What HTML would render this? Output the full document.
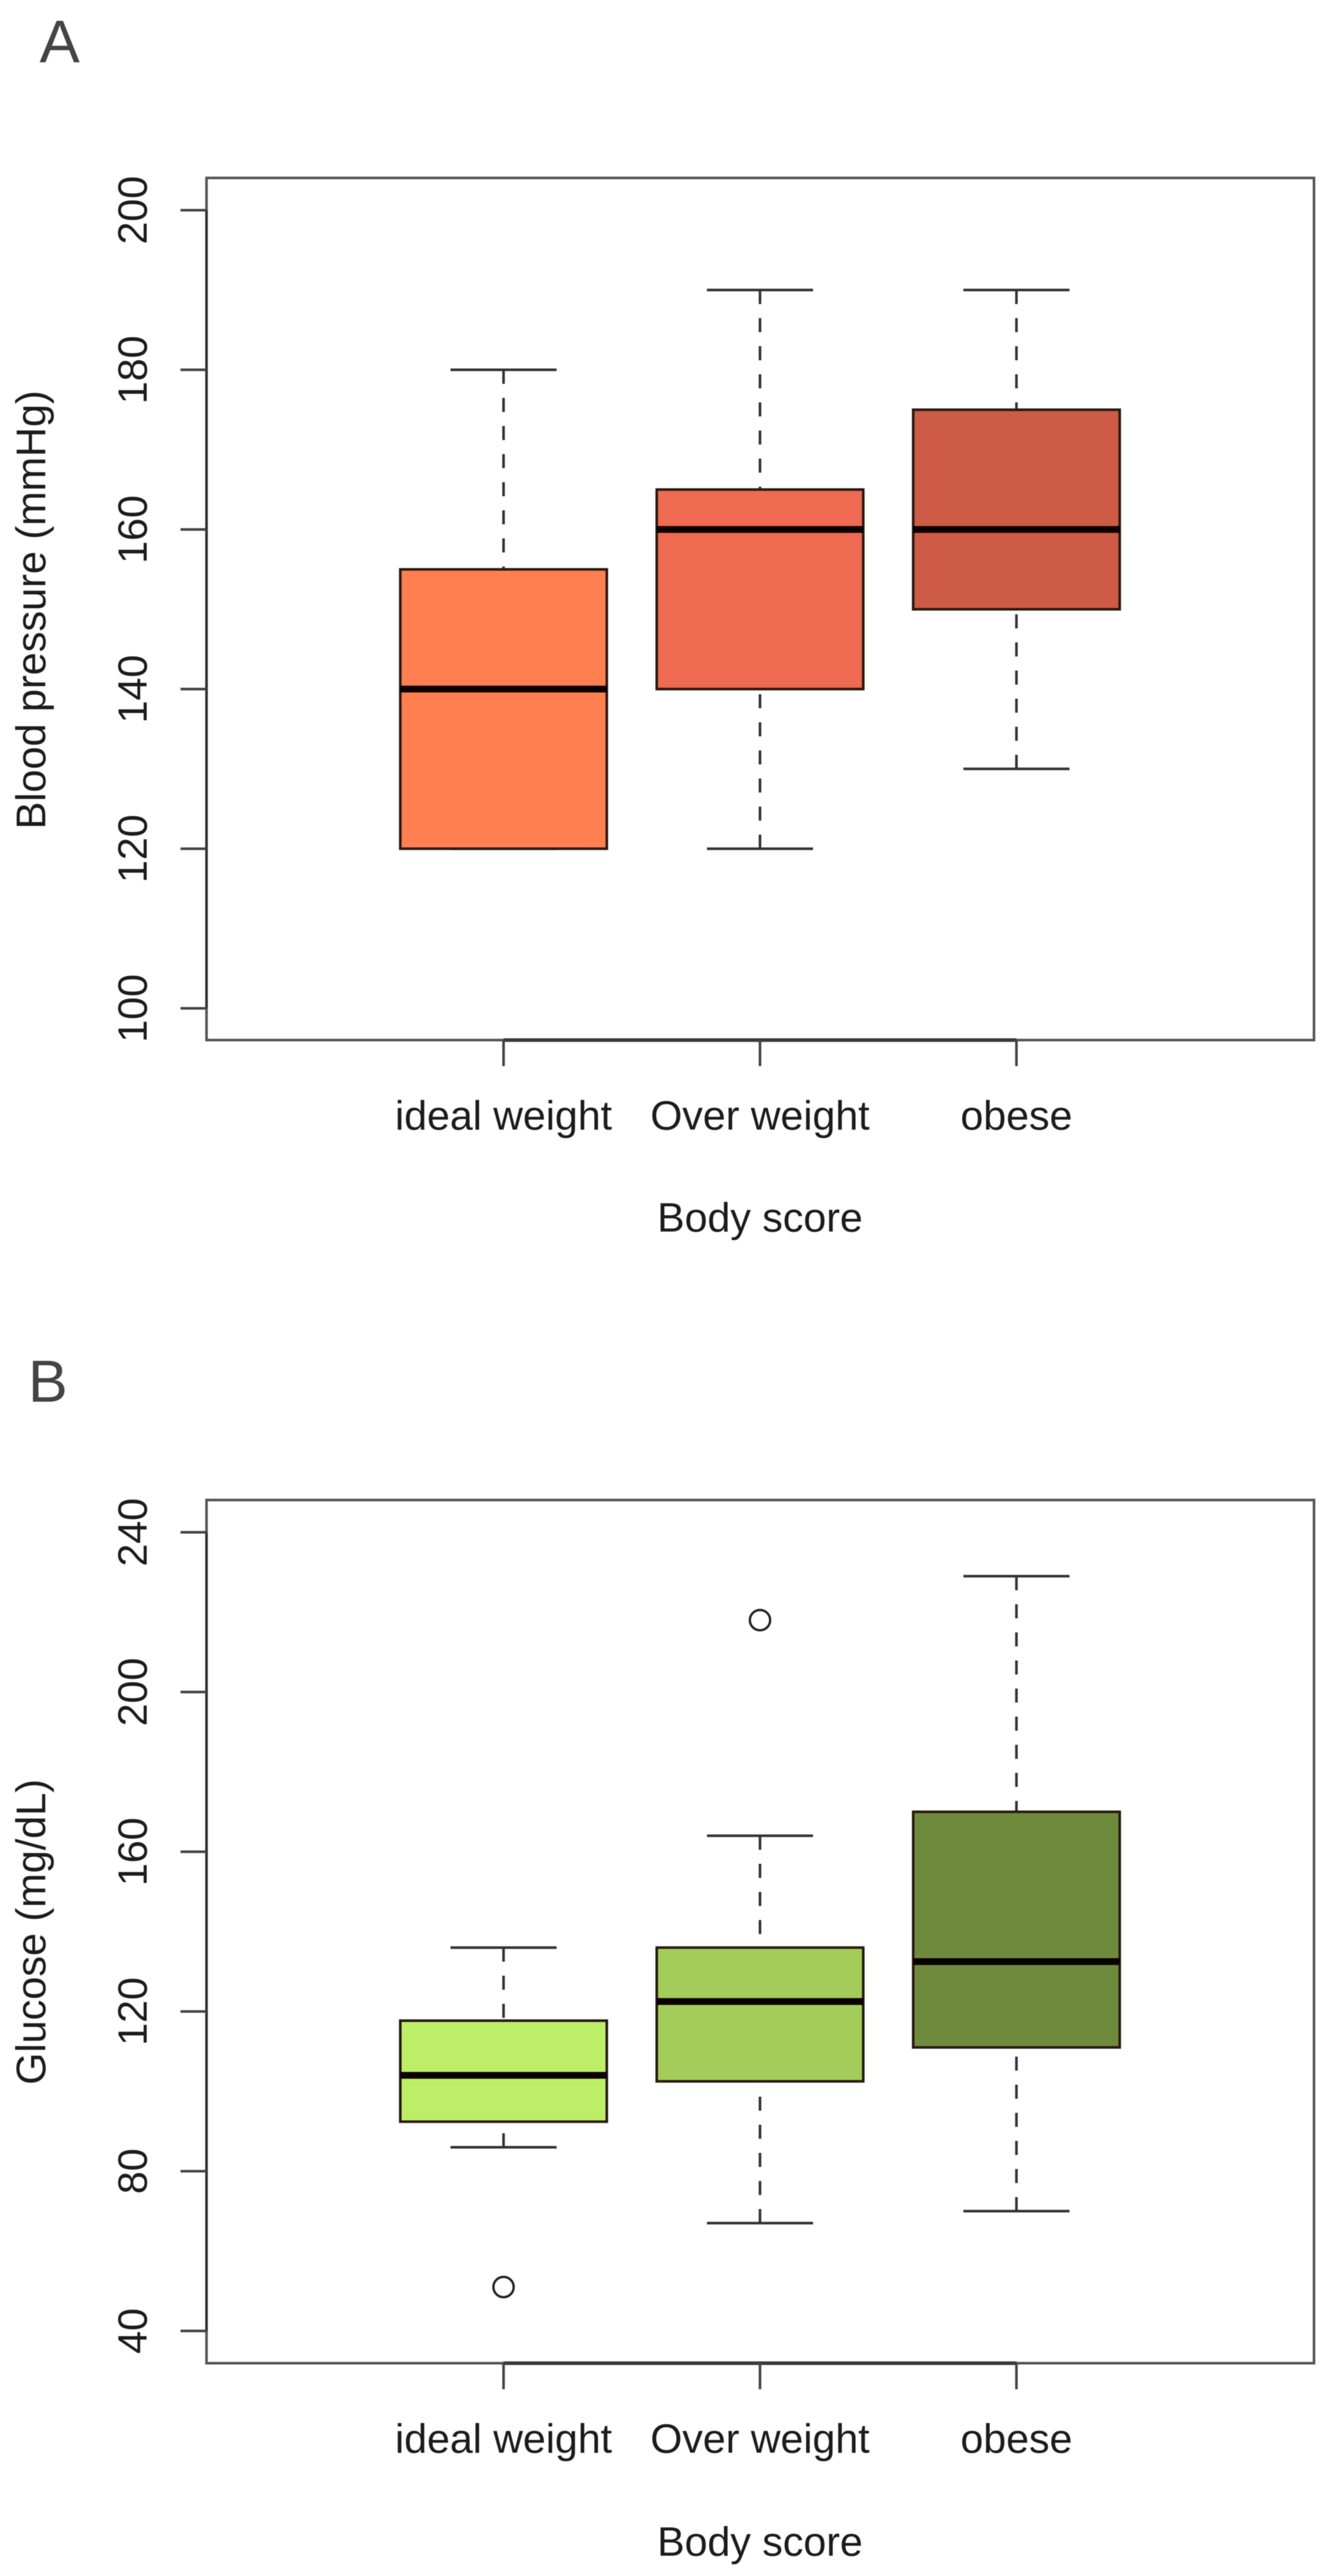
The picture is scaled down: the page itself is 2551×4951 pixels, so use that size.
<!DOCTYPE html>
<html>
<head>
<meta charset="utf-8">
<title>Blood pressure and glucose by body score</title>
<style>
html,body{margin:0;padding:0;background:#fff;}
svg{display:block;filter:blur(0.8px);}
text{font-family:"Liberation Sans",Arial,sans-serif;fill:#1c1c1c;}
</style>
</head>
<body>
<svg id="chart" xmlns="http://www.w3.org/2000/svg" width="2551" height="4951" viewBox="0 0 2551 4951">
<rect x="0" y="0" width="2551" height="4951" fill="#ffffff"/>
<text x="76" y="120" font-size="116" style="fill:#444444">A</text>
<text x="54" y="2694" font-size="114" style="fill:#444444">B</text>
<text transform="translate(87 1172) rotate(-90)" text-anchor="middle" font-size="79.5">Blood pressure (mmHg)</text>
<text x="1461" y="2367" text-anchor="middle" font-size="79">Body score</text>
<text transform="translate(87 3713) rotate(-90)" text-anchor="middle" font-size="79.5">Glucose (mg/dL)</text>
<text x="1461" y="4912" text-anchor="middle" font-size="79">Body score</text>
</svg>
<script>
const categories = ["ideal weight", "Over weight", "obese"];

const bpTicks = [100, 120, 140, 160, 180, 200];
const bpLow = [120, 120, 130];
const bpQ1 = [120, 140, 150];
const bpMedian = [140, 160, 160];
const bpQ3 = [155, 165, 175];
const bpHigh = [180, 190, 190];
const bpOutliers = [[], [], []];
const bpColors = ["#FF7F50", "#EE6A50", "#CD5B45"];

const glucoseTicks = [40, 80, 120, 160, 200, 240];
const glucoseLow = [86, 67, 70];
const glucoseQ1 = [92.4, 102.5, 111];
const glucoseMedian = [104, 122.5, 132.5];
const glucoseQ3 = [117.7, 136, 170];
const glucoseHigh = [136, 164, 229];
const glucoseOutliers = [[51], [218], []];
const glucoseColors = ["#BCEE68", "#A2CD5A", "#6E8B3D"];

const svg = document.getElementById('chart');
const NS = 'http://www.w3.org/2000/svg';

function xCat(i) { return 968 + i * 493; }
function yBp(v) { return 1938 - (v - 100) * 15.34; }
function yGlucose(v) { return 4480 - (v - 40) * 7.675; }

function line(x1, y1, x2, y2, stroke, width, dash) {
  const el = document.createElementNS(NS, 'line');
  el.setAttribute('x1', x1);
  el.setAttribute('y1', y1);
  el.setAttribute('x2', x2);
  el.setAttribute('y2', y2);
  el.setAttribute('stroke', stroke);
  el.setAttribute('stroke-width', width);
  if (dash) el.setAttribute('stroke-dasharray', dash);
  svg.appendChild(el);
  return el;
}

function drawPanel(key, yScale, top, bottom, ticks, low, q1, med, q3, high, outliers, colors, labelBaseline) {
  const left = 397, right = 2526;

  const frame = document.createElementNS(NS, 'rect');
  
  
  frame.setAttribute('x', left);
  frame.setAttribute('y', top);
  frame.setAttribute('width', right - left);
  frame.setAttribute('height', bottom - top);
  frame.setAttribute('fill', 'none');
  frame.setAttribute('stroke', '#555555');
  frame.setAttribute('stroke-width', 5);
  svg.appendChild(frame);

  const yAxis = line(left, yScale(ticks[0]), left, yScale(ticks[ticks.length - 1]), '#2e2e2e', 5);
  
  

  const xAxis = line(xCat(0), bottom, xCat(categories.length - 1), bottom, '#3a3a3a', 7);
  
  

  ticks.forEach(function (t) {
    const y = yScale(t);
    const tick = line(left - 50, y, left, y, '#444444', 5);
    
    
    const label = document.createElementNS(NS, 'text');
    
    
    label.setAttribute('transform', 'translate(282 ' + y + ') rotate(-90)');
    label.setAttribute('text-anchor', 'middle');
    label.setAttribute('font-size', '79');
    label.textContent = String(t);
    svg.appendChild(label);
  });

  categories.forEach(function (name, i) {
    const x = xCat(i);
    const halfBox = 198.5, halfCap = 102;

    const tick = line(x, bottom, x, bottom + 50, '#444444', 5);
    
    

    const label = document.createElementNS(NS, 'text');
    
    
    label.setAttribute('x', x);
    label.setAttribute('y', labelBaseline);
    label.setAttribute('text-anchor', 'middle');
    label.setAttribute('font-size', '79');
    label.textContent = name;
    svg.appendChild(label);

    const whiskerUp = line(x, yScale(high[i]), x, yScale(q3[i]), '#333333', 5, '27 27');
    
    
    const whiskerDown = line(x, yScale(low[i]), x, yScale(q1[i]), '#333333', 5, '27 27');
    
    
    const capUp = line(x - halfCap, yScale(high[i]), x + halfCap, yScale(high[i]), '#333333', 5);
    
    
    const capDown = line(x - halfCap, yScale(low[i]), x + halfCap, yScale(low[i]), '#333333', 5);
    
    

    const box = document.createElementNS(NS, 'rect');
    
    
    box.setAttribute('x', x - halfBox);
    box.setAttribute('y', yScale(q3[i]));
    box.setAttribute('width', halfBox * 2);
    box.setAttribute('height', yScale(q1[i]) - yScale(q3[i]));
    box.setAttribute('fill', colors[i]);
    box.setAttribute('stroke', '#2a1a10');
    box.setAttribute('stroke-width', 5);
    svg.appendChild(box);

    const median = line(x - halfBox, yScale(med[i]), x + halfBox, yScale(med[i]), '#0a0000', 13);
    
    

    outliers[i].forEach(function (v) {
      const dot = document.createElementNS(NS, 'circle');
      
      
      dot.setAttribute('cx', x);
      dot.setAttribute('cy', yScale(v));
      dot.setAttribute('r', 19.5);
      dot.setAttribute('fill', 'none');
      dot.setAttribute('stroke', '#222222');
      dot.setAttribute('stroke-width', 4.5);
      svg.appendChild(dot);
    });
  });
}

drawPanel('blood-pressure', yBp, 342, 1999, bpTicks, bpLow, bpQ1, bpMedian, bpQ3, bpHigh, bpOutliers, bpColors, 2171);
drawPanel('glucose', yGlucose, 2883, 4542, glucoseTicks, glucoseLow, glucoseQ1, glucoseMedian, glucoseQ3, glucoseHigh, glucoseOutliers, glucoseColors, 4714);
</script>
</body>
</html>
